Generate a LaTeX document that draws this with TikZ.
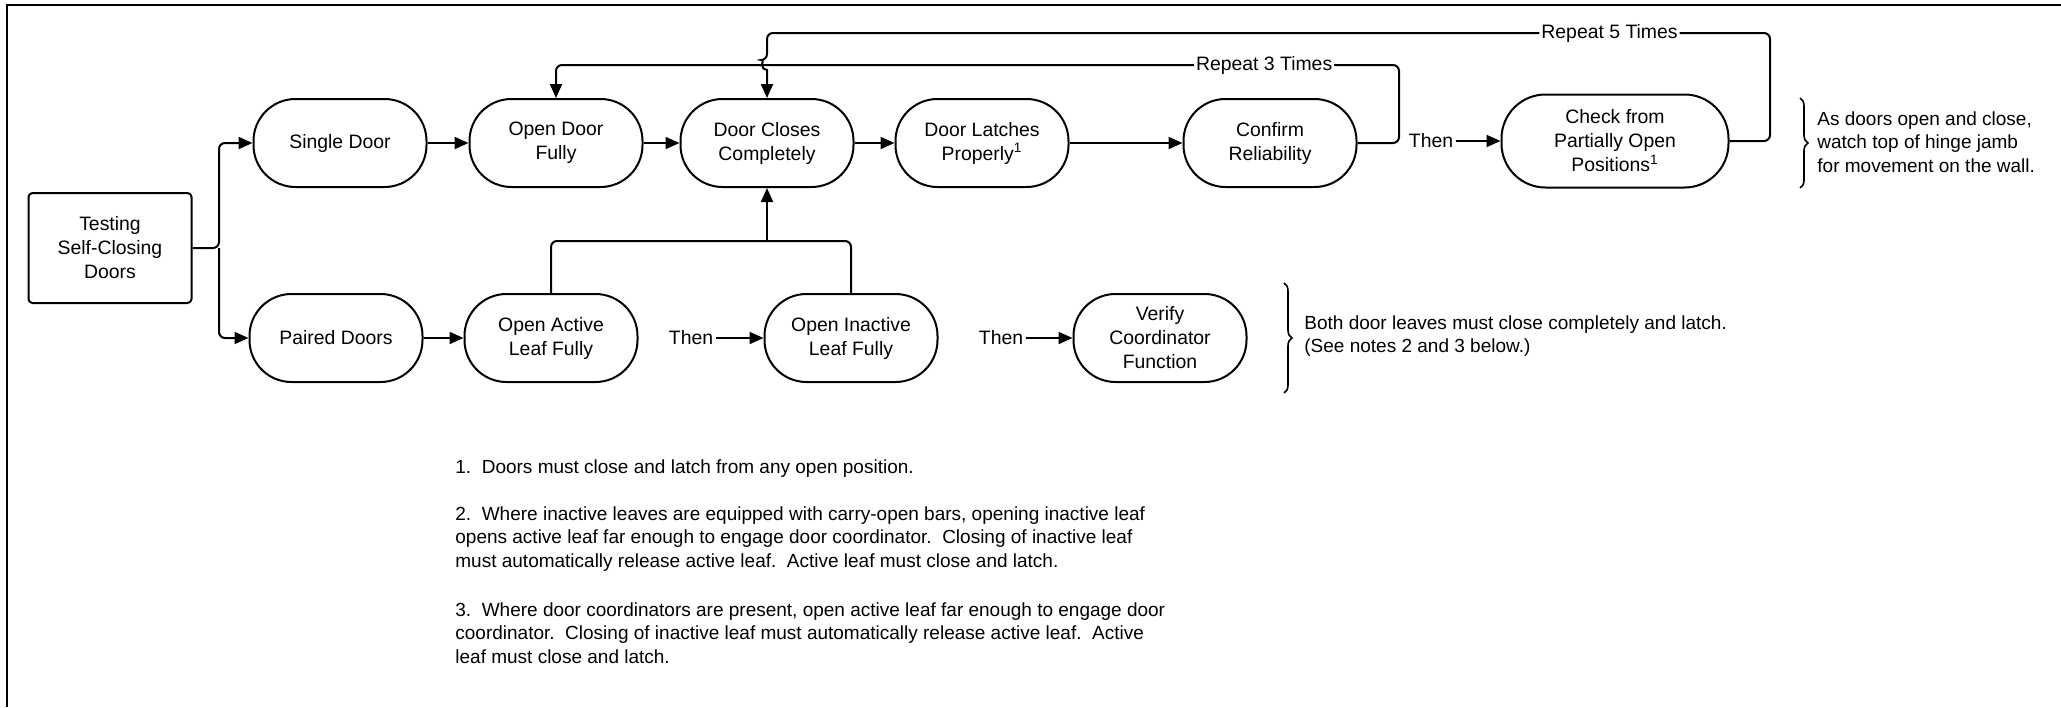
\documentclass[tikz,border=0pt]{standalone}
\usepackage{fontspec}
\setmainfont{Liberation Sans}
\usetikzlibrary{arrows.meta,decorations.pathreplacing}

\colorlet{ink}{black}
\tikzset{
  pill/.style={draw=ink, line width=1pt, rounded corners=21pt, minimum width=86.5pt,
    minimum height=44pt, align=center, inner sep=1pt, font=\fontsize{9.7}{12}\selectfont},
  startbox/.style={draw=ink, line width=1pt, rounded corners=2pt, minimum width=81.5pt,
    minimum height=55pt, align=center, inner sep=1pt, font=\fontsize{9.7}{12}\selectfont},
  note/.style={align=left, inner sep=1pt, font=\fontsize{9.5}{11.75}\selectfont},
  tag/.style={fill=white, inner sep=1pt, font=\fontsize{9.7}{12}\selectfont}
  }
\tikzstyle{wire} = [draw=ink, line width=1pt, rounded corners=3pt]
\tikzstyle{link} = [wire, -{Triangle[length=7pt,width=6pt]}]
\tikzstyle{curly} = [draw=ink, line width=0.8pt, decorate, decoration={brace, amplitude=4pt}]

\begin{document}
\begin{tikzpicture}[x=0.5pt, y=-0.5pt]

  \useasboundingbox (0,0) rectangle (2061,707);
  \draw[line width=1pt] (7,707) -- (7,5) -- (2061,5);

  \node[startbox] (test) at (110,248) {Testing\\Self-Closing\\Doors};

  \foreach \pos/\name/\txt in {{(340,143)/single/Single Door}, {(556,143)/openfull/Open Door\\Fully},
      {(767,143)/closes/Door Closes\\Completely}, {(982,143)/latches/Door Latches\\Properly\textsuperscript{1}},
      {(1270,143)/confirm/Confirm\\Reliability}, {(336,338)/paired/Paired Doors},
      {(551,338)/active/Open Active\\Leaf Fully}, {(851,338)/inactive/Open Inactive\\Leaf Fully},
      {(1160,338)/verify/Verify\\Coordinator\\Function}} {
    \node[pill] (\name) at \pos {\txt};
  }
  \node[pill, minimum width=113.5pt, minimum height=46.5pt, rounded corners=22pt] (partial)
    at (1615,141) {Check from\\Partially Open\\Positions\textsuperscript{1}};

  \foreach \pos/\name in {{(1431,141)/then1}, {(691,338)/then2}, {(1001,338)/then3}} {
    \node[tag] (\name) at \pos {Then};
  }

  % branches out of the start box
  \coordinate (split) at (219,248);
  \draw[link] (test.east) -- (split) |- (single.west);
  \draw[link] (split) |- (paired.west);

  \draw[link] (single) -- (openfull);
  \draw[link] (openfull) -- (closes);
  \draw[link] (closes) -- (latches);
  \draw[link] (latches) -- (confirm);
  \draw[link] (then1) -- (partial);
  \draw[link] (paired) -- (active);
  \draw[link] (then2) -- (inactive);
  \draw[link] (then3) -- (verify);

  % loops back
  \coordinate (rep3) at (1399,65);
  \coordinate (rep5) at (1770,33);
  \draw[link] (confirm.east) -| (rep3) -- node[pos=0.16, tag] {Repeat 3 Times} (rep3 -| openfull.north)
    -- (openfull.north);
  \draw[link] (partial.east) -| (rep5) -- node[pos=0.16, tag] {Repeat 5 Times} (rep5 -| closes.north)
    -- (767,60) [sharp corners] arc[start angle=270, end angle=90, radius=5] -- (closes.north);

  % both leaves feed the closing step
  \coordinate (merge) at (767,241);
  \draw[wire] (active.north) |- (merge);
  \draw[wire] (inactive.north) |- (merge);
  \draw[link] (merge) -- (closes.south);

  \draw[curly] (1800,98) -- (1800,188);
  \draw[curly] (1284,283) -- (1284,393);
  \node[note, anchor=west] (watch) at (1815,142) {As doors open and close,\\watch top of hinge jamb\\for movement on the wall.};
  \node[note, anchor=west] (leaves) at (1302,336) {Both door leaves must close completely and latch.\\(See notes 2 and 3 below.)};

  \node[note, anchor=west] (note1) at (453,469) {1.\ \ Doors must close and latch from any open position.};
  \node[note, anchor=west] (note2) at (453,539) {2.\ \ Where inactive leaves are equipped with carry-open bars, opening inactive leaf\\opens active leaf far enough to engage door coordinator.\ \ Closing of inactive leaf\\must automatically release active leaf.\ \ Active leaf must close and latch.};
  \node[note, anchor=west] (note3) at (453,633) {3.\ \ Where door coordinators are present, open active leaf far enough to engage door\\coordinator.\ \ Closing of inactive leaf must automatically release active leaf.\ \ Active\\leaf must close and latch.};

\end{tikzpicture}
\end{document}
